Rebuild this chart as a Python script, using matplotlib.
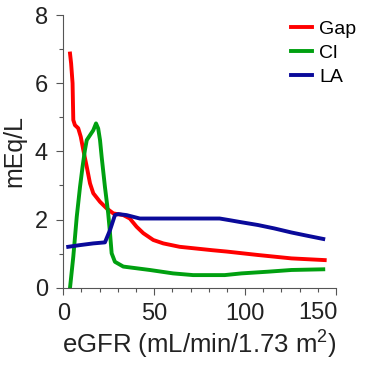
import matplotlib.pyplot as plt
from matplotlib.ticker import MultipleLocator, FixedLocator, FixedFormatter

plt.rcParams['font.family'] = ['Liberation Sans', 'DejaVu Sans']
plt.rcParams['mathtext.default'] = 'regular'

gap_x = [3.7, 4.3, 5.1, 5.5, 6.4, 8.2, 9.6, 11, 12.9, 14.7, 16.5, 20.2, 23.8, 27.5,
         33, 36.6, 40.3, 44, 49.5, 55, 64, 73, 82, 90, 107, 125.5, 143.8]
gap_y = [6.87, 6.58, 6.0, 4.92, 4.77, 4.68, 4.43, 4.04, 3.55, 3.06, 2.77, 2.52, 2.33, 2.18,
         2.13, 2.03, 1.79, 1.6, 1.4, 1.3, 1.2, 1.15, 1.1, 1.06, 0.96, 0.86, 0.81]

cl_x = [3.7, 5.5, 7.4, 9.2, 10.6, 11.9, 12.9, 16.5, 18, 19.2, 20.2, 21.1, 22.9, 24.7,
        25.7, 26.6, 28.4, 33, 40.3, 47.6, 60.4, 71.4, 88.8, 98, 112.6, 125.5, 143]
cl_y = [0.0, 0.91, 2.08, 2.96, 3.55, 4.04, 4.33, 4.62, 4.82, 4.67, 4.33, 3.84, 2.96, 2.18,
        1.6, 1.01, 0.76, 0.62, 0.57, 0.52, 0.42, 0.37, 0.37, 0.42, 0.47, 0.52, 0.54]

la_x = [2.7, 9.2, 16.5, 22.9, 25.7, 28.4, 30.2, 34.8, 42.1, 86, 91.6, 98, 107, 116,
        125.5, 134.6, 143]
la_y = [1.2, 1.25, 1.3, 1.33, 1.69, 2.13, 2.16, 2.13, 2.03, 2.03, 1.98, 1.92, 1.84, 1.74,
        1.62, 1.52, 1.43]

x_ticks = [0, 50, 100, 150]
x_ticklabels = ['0', '50', '100', '']

fig = plt.figure(figsize=(3.68, 3.69), dpi=100)
ax = fig.add_axes([0.172, 0.2203, 0.741, 0.739])

ax.plot(gap_x, gap_y, color='#ff0000', linewidth=2.8, label='Gap')
ax.plot(cl_x, cl_y, color='#00a010', linewidth=2.8, label='Cl')
ax.plot(la_x, la_y, color='#0a0a9a', linewidth=2.8, label='LA')

ax.set_xlim(0, 150)
ax.set_ylim(0, 8)
for s in ['top', 'right']:
    ax.spines[s].set_visible(False)
for s in ['left', 'bottom']:
    ax.spines[s].set_color('#555555')
    ax.spines[s].set_linewidth(0.8)

ax.xaxis.set_major_locator(FixedLocator(x_ticks))
ax.xaxis.set_major_formatter(FixedFormatter(x_ticklabels))
ax.xaxis.set_minor_locator(MultipleLocator(10))
ax.yaxis.set_major_locator(MultipleLocator(2))
ax.yaxis.set_minor_locator(MultipleLocator(1))
ax.tick_params(which='major', length=5, width=0.8, color='#555555', labelsize=17, pad=6,
               labelcolor='#222222')
ax.tick_params(which='minor', length=3, width=0.8, color='#555555')

# the "150" label sits left of its tick in the original
ax.annotate('150', xy=(150, 0), xycoords='data', xytext=(-13, -10.3),
            textcoords='offset points', ha='center', va='top', fontsize=17,
            color='#222222', annotation_clip=False)

ax.set_xlabel('eGFR (mL/min/1.73 m$^2$)', fontsize=18.5, color='#222222', labelpad=3)
ax.set_ylabel('mEq/L', fontsize=18, color='#222222', labelpad=6)

ax.legend(loc='upper right', bbox_to_anchor=(0.968, 0.944), bbox_transform=fig.transFigure,
          frameon=False, fontsize=14, handlelength=1.08, handletextpad=0.35,
          labelspacing=0.32, borderpad=0, borderaxespad=0)

fig.savefig('out.png', dpi=100)
